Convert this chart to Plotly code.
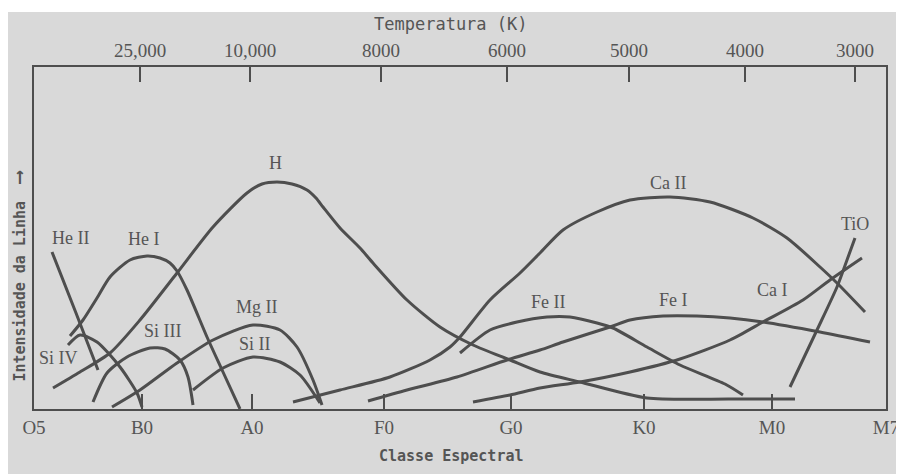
import plotly.graph_objects as go

# ---- axis categories (positions along the spectral sequence, arbitrary units) ----
class_labels = ["O5", "B0", "A0", "F0", "G0", "K0", "M0", "M7"]
class_pos = [0, 108, 218, 350, 477, 610, 738, 852]

temp_labels = ["25,000", "10,000", "8000", "6000", "5000", "4000", "3000"]
temp_pos = [106, 216, 347, 473, 595, 711, 821]

# ---- line intensity curves (x = spectral position, y = relative intensity) ----
he2_x = [18, 42, 64]
he2_y = [157, 96, 39]

he1_x = [36, 49, 63, 76, 96, 113, 126, 136, 143, 153, 173, 189, 206]
he1_y = [73, 89, 111, 132, 149, 153, 151, 146, 138, 119, 72, 37, 0]

h_x = [19, 46, 76, 106, 143, 179, 213, 228, 243, 258, 273, 282, 289, 306, 326, 339, 373, 406, 439, 476, 506, 546, 613, 696, 761]
h_y = [21, 37, 56, 89, 136, 182, 216, 225, 227, 225, 219, 211, 202, 181, 161, 146, 109, 82, 64, 49, 37, 27, 11, 10, 10]

si4_x = [34, 46, 63, 86, 103, 108]
si4_y = [64, 74, 67, 42, 16, 2]

si3_x = [59, 73, 93, 116, 131, 146, 154, 159]
si3_y = [7, 36, 52, 61, 60, 49, 32, 4]

mg2_x = [78, 106, 143, 179, 219, 246, 263, 279, 288]
mg2_y = [2, 19, 46, 69, 84, 79, 62, 29, 4]

si2_x = [159, 189, 219, 246, 266, 286]
si2_y = [19, 41, 52, 47, 34, 6]

ca2_x = [259, 306, 356, 396, 416, 426, 456, 486, 506, 529, 563, 596, 636, 676, 719, 753, 786, 803, 831]
ca2_y = [7, 19, 32, 49, 62, 72, 109, 136, 156, 179, 197, 209, 212, 207, 191, 171, 142, 126, 97]

fe2_x = [426, 456, 483, 513, 536, 563, 579, 613, 646, 691, 709]
fe2_y = [56, 79, 87, 92, 92, 86, 81, 62, 44, 25, 14]

fe1_x = [334, 373, 423, 473, 506, 529, 576, 596, 629, 663, 696, 729, 786, 836]
fe1_y = [8, 19, 32, 49, 59, 67, 82, 89, 93, 93, 91, 87, 77, 67]

ca1_x = [439, 476, 506, 546, 596, 646, 696, 729, 769, 796, 828]
ca1_y = [7, 14, 21, 27, 37, 50, 69, 87, 109, 129, 151]

tio_x = [756, 783, 803, 813, 821]
tio_y = [22, 79, 122, 149, 171]

series = [
    ("He II", he2_x, he2_y), ("He I", he1_x, he1_y), ("H", h_x, h_y),
    ("Si IV", si4_x, si4_y), ("Si III", si3_x, si3_y), ("Mg II", mg2_x, mg2_y),
    ("Si II", si2_x, si2_y), ("Ca II", ca2_x, ca2_y), ("Fe II", fe2_x, fe2_y),
    ("Fe I", fe1_x, fe1_y), ("Ca I", ca1_x, ca1_y), ("TiO", tio_x, tio_y),
]

# label anchor points (in data units)
label_xy = {
    "He II": (36, 171), "He I": (109, 170), "H": (241, 246), "Si IV": (24, 51),
    "Si III": (129, 78), "Mg II": (223, 102), "Si II": (221, 65), "Ca II": (634, 226),
    "Fe II": (514, 107), "Fe I": (639, 109), "Ca I": (738, 119), "TiO": (821, 185),
}

BG = "#d9d9d9"
INK = "#4e4e4e"
TXT = "#555555"
SERIF = "Liberation Serif"
MONO = "DejaVu Sans Mono"

fig = go.Figure()
for name, xs, ys in series:
    fig.add_trace(go.Scatter(x=xs, y=ys, mode="lines", name=name,
                             line=dict(color=INK, width=3, shape="spline", smoothing=0.7),
                             hoverinfo="name"))

# invisible trace to activate top axis
fig.add_trace(go.Scatter(x=[temp_pos[0]], y=[0], xaxis="x2", mode="markers",
                         marker=dict(opacity=0), hoverinfo="skip", showlegend=False))

for name, (lx, ly) in label_xy.items():
    fig.add_annotation(x=lx, y=ly, text=name, showarrow=False,
                       font=dict(family=SERIF, size=18, color=TXT))

# axis titles
fig.add_annotation(xref="paper", yref="paper", x=0.49, y=1.126, text="Temperatura (K)",
                   xanchor="center", yanchor="middle",
                   showarrow=False, font=dict(family=MONO, size=17, color=TXT))
fig.add_annotation(xref="paper", yref="paper", x=0.49, y=-0.137, text="<b>Classe Espectral</b>",
                   xanchor="center", yanchor="middle",
                   showarrow=False, font=dict(family=MONO, size=15, color=TXT))
fig.add_annotation(xref="paper", yref="paper", x=-0.0188, y=0.39,
                   text="<b>Intensidade da Linha  <span style='font-size:19px'>⟶</span></b>",
                   xanchor="center", yanchor="middle",
                   textangle=-90, showarrow=False, font=dict(family=MONO, size=15, color=TXT))

# white scan margin at the top
fig.add_shape(type="rect", xref="paper", yref="paper", x0=-0.05, x1=1.1, y0=1.1608, y1=1.25,
              fillcolor="white", line=dict(width=0), layer="below")

fig.update_layout(
    width=896, height=466,
    margin=dict(l=26, r=18, t=59, b=65, autoexpand=False),
    paper_bgcolor=BG, plot_bgcolor=BG,
    showlegend=False,
    xaxis=dict(range=[0, 852], tickvals=class_pos, ticktext=class_labels, automargin=False,
               ticks="inside", ticklen=15, tickwidth=2, tickcolor=INK,
               showline=True, linecolor=INK, linewidth=2, mirror=False,
               showgrid=False, zeroline=False, ticklabelstandoff=0,
               tickfont=dict(family=SERIF, size=19, color=TXT)),
    xaxis2=dict(range=[0, 852], overlaying="x", side="top", tickvals=temp_pos, ticktext=temp_labels,
                automargin=False,
                ticks="inside", ticklen=15, tickwidth=2, tickcolor=INK,
                showline=True, linecolor=INK, linewidth=2,
                showgrid=False, zeroline=False, ticklabelstandoff=0,
                tickfont=dict(family=SERIF, size=19, color=TXT)),
    yaxis=dict(range=[0, 342], showticklabels=False, ticks="", showgrid=False, zeroline=False,
               automargin=False,
               showline=True, linecolor=INK, linewidth=2, mirror=True),
)

fig.write_html("out.html")
